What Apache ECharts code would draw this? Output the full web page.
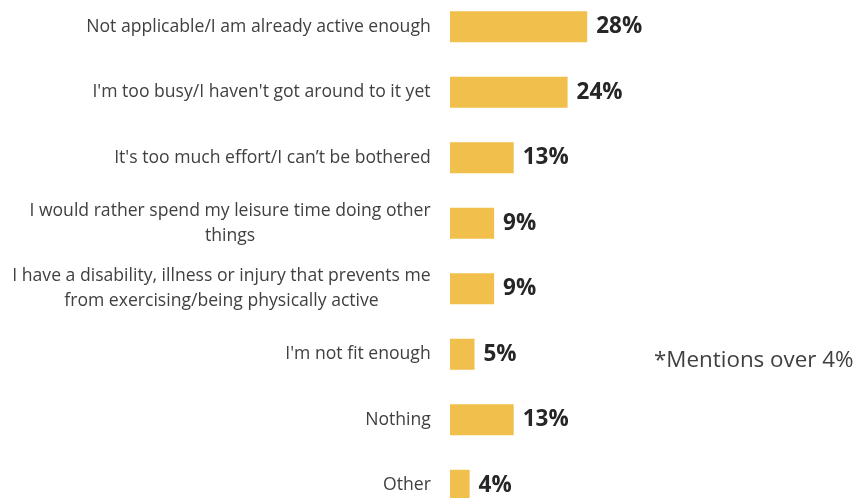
<!DOCTYPE html>
<html>
<head>
<meta charset="utf-8">
<script src="https://cdn.jsdelivr.net/npm/echarts@6/dist/echarts.min.js"></script>
<style>html,body{margin:0;padding:0;background:#fff}#c{width:856px;height:498px}</style>
</head>
<body>
<div id="c"></div>
<script>
const categories = [
  "Not applicable/I am already active enough",
  "I'm too busy/I haven't got around to it yet",
  "It's too much effort/I can\u2019t be bothered",
  "I would rather spend my leisure time doing other\nthings",
  "I have a disability, illness or injury that prevents me\nfrom exercising/being physically active",
  "I'm not fit enough",
  "Nothing",
  "Other"
];
const values = [28, 24, 13, 9, 9, 5, 13, 4];
const note = "*Mentions over 4%";

const LABEL_FONT = '17.6px "Open Sans"';
const ctx = document.createElement('canvas').getContext('2d');
ctx.font = LABEL_FONT;
const rich = {};
categories.forEach((c, i) => {
  const lines = c.split('\n');
  const w = Math.ceil(Math.max(...lines.map(l => ctx.measureText(l).width)));
  rich['r' + i] = { width: w, align: 'center', fontFamily: 'Open Sans', fontSize: 17.6, color: '#404040', lineHeight: 25 };
});

const chart = echarts.init(document.getElementById('c'));
chart.setOption({
  animation: false,
  grid: { left: 450, top: -6, width: 294, height: 524, containLabel: false, outerBoundsMode: 'none' },
  xAxis: { type: 'value', min: 0, max: 60, show: false },
  yAxis: {
    type: 'category', data: categories, inverse: true,
    axisLine: { show: false }, axisTick: { show: false },
    axisLabel: {
      margin: 19, fontFamily: 'Open Sans', fontSize: 17.6, color: '#404040',
      align: 'right', lineHeight: 25, rich: rich,
      formatter: function (val, idx) {
        const i = categories.indexOf(val);
        return val.split('\n').map(l => '{r' + i + '|' + l + '}').join('\n');
      }
    }
  },
  series: [{
    type: 'bar', data: values, barWidth: 31,
    itemStyle: { color: '#F1BF4B' },
    label: {
      show: true, position: 'right', distance: 9,
      formatter: '{c}%', fontFamily: 'Open Sans', fontWeight: 'bold',
      fontSize: 22.5, color: '#262626'
    }
  }],
  graphic: [{
    type: 'text', left: 654, top: 350,
    style: { text: note, fontFamily: 'Open Sans', fontSize: 22.4, fill: '#404040' }
  }]
});
</script>
</body>
</html>
